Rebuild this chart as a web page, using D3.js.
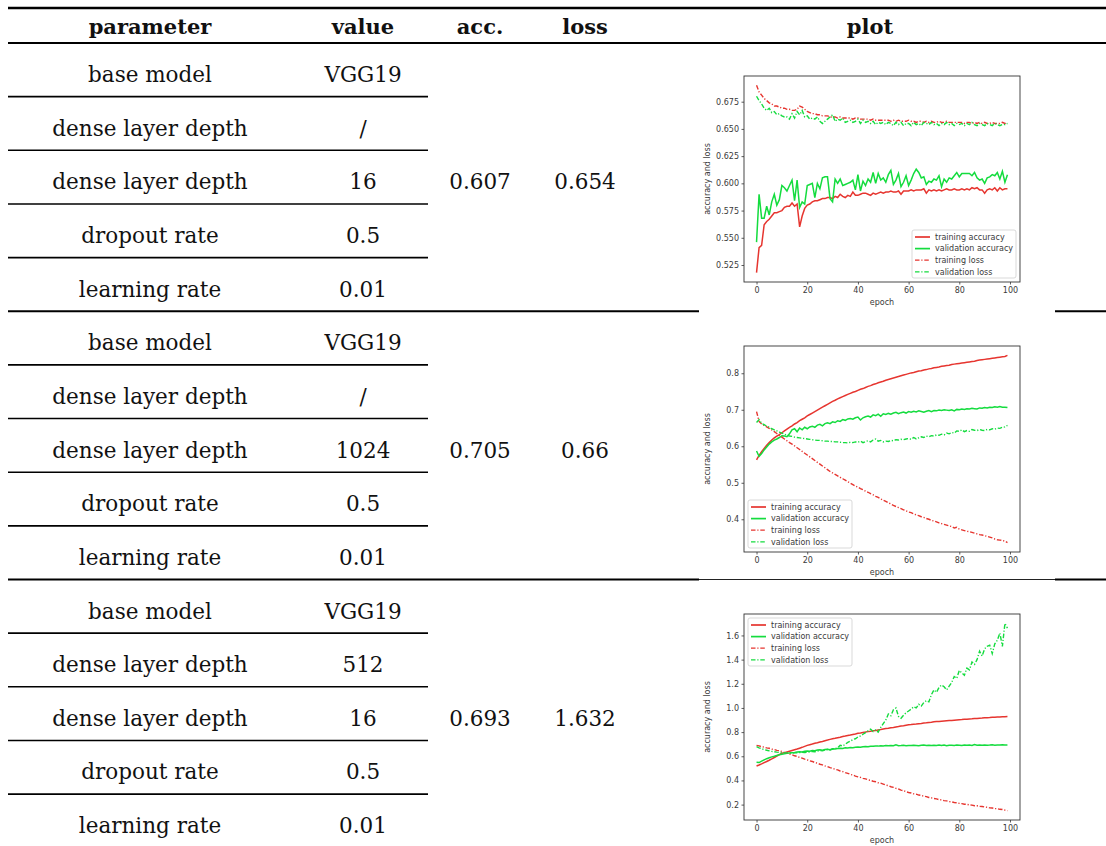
<!DOCTYPE html>
<html>
<head>
<meta charset="utf-8" />
<title>VGG19 tuning table</title>
<script src="https://cdn.jsdelivr.net/npm/d3@7/dist/d3.min.js"></script>
<style>
  body { margin: 0; background: #fff; }
  svg { display: block; }
  .cell { font-family: 'DejaVu Serif', serif; font-size: 21.5px; fill: #111; }
  .head { font-weight: bold; font-size: 21px; }
  .mini text, .mini .lab { font-family: 'DejaVu Sans', sans-serif; font-size: 8px; fill: #3a3a3a; }
</style>
</head>
<body>
<svg id="chart" width="1106" height="846"></svg>
<script>
// table text
var columns = ['parameter', 'value', 'acc.', 'loss', 'plot'];
var paramNames = ['base model', 'dense layer depth', 'dense layer depth', 'dropout rate', 'learning rate'];
var paramValues = [
  ['VGG19', '/', '16', '0.5', '0.01'],
  ['VGG19', '/', '1024', '0.5', '0.01'],
  ['VGG19', '512', '16', '0.5', '0.01']
];
var accValues = ['0.607', '0.705', '0.693'];
var lossValues = ['0.654', '0.66', '1.632'];

// plot labels and ticks
var seriesNames = ['training accuracy', 'validation accuracy', 'training loss', 'validation loss'];
var xTicks = [0, 20, 40, 60, 80, 100];
var yTicks1 = [0.525, 0.55, 0.575, 0.6, 0.625, 0.65, 0.675];
var yTicks2 = [0.4, 0.5, 0.6, 0.7, 0.8];
var yTicks3 = [0.2, 0.4, 0.6, 0.8, 1.0, 1.2, 1.4, 1.6];

// plot 1 (dense 16)
var trainAcc1 = [0.518,0.541,0.543,0.562,0.565,0.567,0.570,0.573,0.573,0.574,
  0.575,0.578,0.579,0.579,0.582,0.579,0.581,0.560,0.570,0.577,
  0.580,0.581,0.583,0.584,0.584,0.585,0.586,0.586,0.587,0.587,
  0.586,0.588,0.587,0.590,0.588,0.587,0.589,0.588,0.592,0.589,
  0.589,0.590,0.591,0.591,0.590,0.589,0.591,0.590,0.591,0.592,
  0.591,0.592,0.592,0.593,0.592,0.592,0.593,0.590,0.593,0.593,
  0.593,0.594,0.593,0.594,0.594,0.594,0.595,0.591,0.594,0.593,
  0.594,0.593,0.594,0.593,0.594,0.595,0.594,0.594,0.595,0.594,
  0.594,0.595,0.594,0.595,0.594,0.596,0.595,0.596,0.594,0.594,
  0.591,0.594,0.595,0.594,0.596,0.593,0.596,0.594,0.595,0.595];
var valAcc1 = [0.546,0.590,0.568,0.568,0.579,0.571,0.583,0.590,0.580,0.585,
  0.598,0.596,0.593,0.598,0.603,0.584,0.603,0.578,0.583,0.581,
  0.598,0.599,0.600,0.587,0.600,0.595,0.605,0.606,0.606,0.586,
  0.583,0.604,0.600,0.604,0.598,0.599,0.600,0.601,0.603,0.594,
  0.608,0.593,0.602,0.598,0.604,0.601,0.610,0.600,0.609,0.603,
  0.605,0.601,0.608,0.612,0.599,0.603,0.609,0.597,0.601,0.607,
  0.598,0.603,0.609,0.613,0.610,0.605,0.606,0.599,0.602,0.601,
  0.604,0.603,0.607,0.597,0.604,0.601,0.605,0.604,0.607,0.610,
  0.606,0.609,0.609,0.609,0.609,0.607,0.610,0.605,0.603,0.604,
  0.600,0.605,0.606,0.608,0.607,0.610,0.604,0.611,0.601,0.608];
var trainLoss1 = [0.690,0.684,0.681,0.678,0.676,0.674,0.673,0.671,0.671,0.670,
  0.669,0.669,0.668,0.668,0.667,0.667,0.668,0.671,0.670,0.668,
  0.666,0.665,0.664,0.664,0.663,0.663,0.662,0.662,0.662,0.661,
  0.661,0.661,0.660,0.661,0.660,0.660,0.660,0.660,0.659,0.660,
  0.660,0.659,0.659,0.659,0.659,0.658,0.659,0.658,0.658,0.658,
  0.658,0.658,0.658,0.657,0.658,0.657,0.658,0.657,0.657,0.657,
  0.658,0.657,0.657,0.656,0.657,0.657,0.656,0.657,0.656,0.657,
  0.656,0.656,0.657,0.656,0.656,0.657,0.656,0.656,0.656,0.656,
  0.656,0.656,0.655,0.656,0.656,0.655,0.656,0.655,0.656,0.655,
  0.656,0.655,0.655,0.656,0.655,0.655,0.655,0.656,0.655,0.655];
var valLoss1 = [0.680,0.676,0.673,0.669,0.667,0.669,0.665,0.666,0.663,0.664,
  0.662,0.661,0.661,0.659,0.664,0.660,0.666,0.663,0.667,0.661,
  0.662,0.659,0.660,0.659,0.661,0.657,0.655,0.657,0.659,0.661,
  0.663,0.657,0.659,0.658,0.660,0.656,0.657,0.658,0.656,0.657,
  0.659,0.655,0.658,0.656,0.657,0.655,0.657,0.654,0.656,0.655,
  0.656,0.654,0.656,0.655,0.653,0.656,0.654,0.656,0.653,0.655,
  0.655,0.653,0.656,0.654,0.655,0.653,0.656,0.655,0.654,0.656,
  0.654,0.655,0.653,0.655,0.654,0.656,0.654,0.655,0.653,0.655,
  0.654,0.655,0.653,0.655,0.654,0.656,0.654,0.653,0.655,0.654,
  0.653,0.655,0.654,0.653,0.655,0.654,0.653,0.654,0.654,0.655];

// plot 2 (dense 1024)
var trainAcc2 = [0.563,0.575,0.585,0.594,0.603,0.610,0.617,0.623,0.628,0.632,
  0.637,0.642,0.647,0.652,0.656,0.661,0.665,0.670,0.674,0.678,
  0.683,0.687,0.691,0.695,0.699,0.703,0.707,0.711,0.715,0.719,
  0.723,0.726,0.730,0.733,0.736,0.739,0.742,0.745,0.748,0.750,
  0.753,0.756,0.758,0.761,0.764,0.766,0.769,0.771,0.774,0.776,
  0.778,0.781,0.783,0.785,0.787,0.789,0.791,0.793,0.795,0.797,
  0.799,0.801,0.802,0.804,0.806,0.807,0.809,0.810,0.812,0.813,
  0.815,0.816,0.817,0.819,0.820,0.821,0.822,0.824,0.825,0.826,
  0.827,0.828,0.829,0.830,0.831,0.832,0.833,0.835,0.836,0.837,
  0.838,0.839,0.840,0.841,0.842,0.843,0.844,0.845,0.846,0.849];
var valAcc2 = [0.587,0.572,0.580,0.590,0.598,0.606,0.612,0.617,0.620,0.624,
  0.629,0.628,0.626,0.634,0.645,0.648,0.640,0.650,0.645,0.652,
  0.648,0.653,0.655,0.652,0.658,0.660,0.656,0.662,0.664,0.662,
  0.667,0.665,0.670,0.668,0.673,0.671,0.675,0.676,0.674,0.678,
  0.680,0.672,0.678,0.681,0.683,0.680,0.686,0.684,0.688,0.682,
  0.689,0.687,0.690,0.688,0.691,0.693,0.689,0.692,0.694,0.691,
  0.695,0.693,0.696,0.694,0.697,0.695,0.693,0.696,0.698,0.695,
  0.698,0.697,0.699,0.698,0.700,0.699,0.698,0.700,0.697,0.701,
  0.700,0.702,0.701,0.703,0.702,0.704,0.703,0.702,0.705,0.704,
  0.706,0.705,0.707,0.706,0.708,0.707,0.709,0.707,0.707,0.706];
var trainLoss2 = [0.695,0.668,0.661,0.657,0.653,0.649,0.645,0.640,0.635,0.630,
  0.625,0.620,0.615,0.610,0.606,0.601,0.596,0.591,0.586,0.581,
  0.576,0.571,0.566,0.561,0.556,0.551,0.546,0.541,0.536,0.531,
  0.527,0.523,0.519,0.515,0.511,0.507,0.503,0.499,0.495,0.491,
  0.488,0.484,0.481,0.477,0.474,0.470,0.467,0.463,0.460,0.456,
  0.452,0.449,0.445,0.442,0.438,0.435,0.432,0.429,0.426,0.423,
  0.420,0.418,0.415,0.412,0.410,0.407,0.405,0.402,0.400,0.397,
  0.395,0.393,0.390,0.388,0.386,0.384,0.382,0.380,0.376,0.378,
  0.373,0.371,0.369,0.367,0.366,0.364,0.362,0.360,0.358,0.357,
  0.355,0.353,0.351,0.349,0.346,0.344,0.343,0.342,0.340,0.336];
var valLoss2 = [0.665,0.673,0.663,0.659,0.655,0.652,0.648,0.645,0.642,0.639,
  0.636,0.633,0.630,0.628,0.627,0.625,0.624,0.623,0.622,0.621,
  0.620,0.619,0.618,0.617,0.616,0.616,0.615,0.614,0.614,0.613,
  0.613,0.612,0.612,0.611,0.610,0.610,0.609,0.611,0.610,0.612,
  0.611,0.614,0.610,0.613,0.615,0.612,0.617,0.620,0.614,0.616,
  0.612,0.614,0.613,0.616,0.615,0.618,0.617,0.619,0.618,0.620,
  0.621,0.619,0.624,0.620,0.623,0.626,0.624,0.628,0.626,0.629,
  0.628,0.631,0.630,0.633,0.631,0.636,0.634,0.638,0.636,0.642,
  0.641,0.645,0.640,0.643,0.641,0.646,0.644,0.643,0.646,0.644,
  0.643,0.646,0.645,0.648,0.647,0.650,0.649,0.652,0.653,0.657];

// plot 3 (dense 512 + 16)
var trainAcc3 = [0.520,0.528,0.537,0.547,0.557,0.567,0.578,0.590,0.602,0.614,
  0.625,0.630,0.636,0.642,0.648,0.654,0.660,0.667,0.674,0.682,
  0.690,0.696,0.701,0.707,0.712,0.718,0.723,0.729,0.734,0.740,
  0.745,0.749,0.754,0.758,0.763,0.767,0.772,0.776,0.781,0.785,
  0.790,0.793,0.797,0.800,0.804,0.807,0.811,0.814,0.818,0.821,
  0.825,0.829,0.832,0.836,0.839,0.843,0.846,0.850,0.853,0.857,
  0.860,0.862,0.865,0.867,0.870,0.872,0.875,0.877,0.880,0.882,
  0.885,0.887,0.888,0.890,0.892,0.894,0.896,0.897,0.899,0.901,
  0.903,0.904,0.906,0.907,0.909,0.910,0.912,0.913,0.915,0.916,
  0.918,0.919,0.920,0.922,0.923,0.924,0.925,0.927,0.928,0.930];
var valAcc3 = [0.550,0.548,0.560,0.570,0.580,0.588,0.595,0.600,0.607,0.612,
  0.617,0.620,0.624,0.627,0.630,0.632,0.635,0.638,0.636,0.642,
  0.644,0.641,0.648,0.646,0.651,0.653,0.650,0.656,0.658,0.655,
  0.662,0.660,0.664,0.667,0.665,0.670,0.668,0.672,0.671,0.675,
  0.677,0.674,0.679,0.681,0.678,0.683,0.682,0.685,0.684,0.687,
  0.686,0.689,0.688,0.690,0.687,0.695,0.688,0.689,0.691,0.688,
  0.690,0.689,0.692,0.690,0.688,0.691,0.693,0.689,0.692,0.690,
  0.691,0.689,0.693,0.690,0.694,0.688,0.692,0.691,0.690,0.693,
  0.692,0.690,0.694,0.691,0.693,0.690,0.697,0.692,0.693,0.691,
  0.694,0.692,0.693,0.695,0.692,0.694,0.693,0.695,0.693,0.694];
var trainLoss3 = [0.690,0.686,0.679,0.676,0.669,0.666,0.659,0.656,0.649,0.646,
  0.640,0.632,0.627,0.618,0.613,0.604,0.599,0.590,0.585,0.576,
  0.570,0.562,0.557,0.548,0.543,0.534,0.529,0.520,0.515,0.506,
  0.500,0.492,0.487,0.478,0.473,0.464,0.459,0.450,0.445,0.436,
  0.430,0.425,0.417,0.413,0.405,0.401,0.393,0.389,0.381,0.377,
  0.370,0.362,0.357,0.348,0.343,0.334,0.329,0.320,0.315,0.306,
  0.300,0.296,0.289,0.286,0.279,0.276,0.269,0.266,0.259,0.256,
  0.250,0.247,0.241,0.239,0.233,0.231,0.225,0.223,0.217,0.215,
  0.210,0.208,0.203,0.202,0.197,0.196,0.191,0.190,0.185,0.184,
  0.180,0.178,0.173,0.172,0.167,0.166,0.161,0.160,0.154,0.150];
var valLoss3 = [0.680,0.670,0.662,0.655,0.650,0.645,0.640,0.637,0.634,0.632,
  0.630,0.628,0.627,0.626,0.627,0.628,0.629,0.630,0.632,0.631,
  0.633,0.636,0.640,0.637,0.643,0.648,0.645,0.652,0.656,0.651,
  0.660,0.664,0.670,0.690,0.685,0.700,0.715,0.725,0.738,0.745,
  0.760,0.768,0.782,0.795,0.810,0.825,0.805,0.818,0.800,0.840,
  0.870,0.900,0.950,0.935,0.985,1.000,0.930,0.915,0.940,0.960,
  0.975,0.990,1.010,1.000,1.030,1.015,1.045,1.060,1.050,1.110,
  1.150,1.130,1.170,1.190,1.175,1.150,1.180,1.210,1.260,1.245,
  1.310,1.290,1.270,1.330,1.315,1.380,1.360,1.400,1.470,1.430,
  1.490,1.510,1.520,1.450,1.530,1.560,1.620,1.510,1.700,1.660];

var plots = [
  { series: [trainAcc1, valAcc1, trainLoss1, valLoss1], ticks: yTicks1, fmt: '.3f', legend: 'lower right' },
  { series: [trainAcc2, valAcc2, trainLoss2, valLoss2], ticks: yTicks2, fmt: '.1f', legend: 'lower left' },
  { series: [trainAcc3, valAcc3, trainLoss3, valLoss3], ticks: yTicks3, fmt: '.1f', legend: 'upper left' }
];

// layout
var colX = [150, 363, 480, 585, 870];
var rowTop = 43, rowH = 53.65;
var red = '#e6352f', green = '#14dc3e';
var colors = [red, green, red, green];
var dashes = [null, null, '4.5,1.8,1.2,1.8', '4.5,1.8,1.2,1.8'];
var plotLeft = 744, plotW = 276, plotH = 206;
var plotTops = [76, 346, 614];

var svg = d3.select('#chart');
svg.append('rect').attr('width', 1106).attr('height', 846).attr('fill', '#fff');

// rules
svg.append('line').attr('x1', 8).attr('x2', 1106).attr('y1', 8).attr('y2', 8)
  .attr('stroke', '#000').attr('stroke-width', 2.5);
svg.append('line').attr('x1', 8).attr('x2', 1106).attr('y1', rowTop).attr('y2', rowTop)
  .attr('stroke', '#000').attr('stroke-width', 1.8);

svg.selectAll('text.head').data(columns).enter().append('text')
  .attr('class', 'cell head')
  .attr('x', (d, i) => colX[i]).attr('y', 34)
  .attr('text-anchor', 'middle')
  .text(d => d);

paramValues.forEach(function (vals, g) {
  var gTop = rowTop + g * 5 * rowH;
  var grp = svg.append('g');

  grp.selectAll('text.pname').data(paramNames).enter().append('text')
    .attr('class', 'cell')
    .attr('x', colX[0]).attr('y', (d, i) => gTop + i * rowH + 39)
    .attr('text-anchor', 'middle').text(d => d);
  grp.selectAll('text.pval').data(vals).enter().append('text')
    .attr('class', 'cell')
    .attr('x', colX[1]).attr('y', (d, i) => gTop + i * rowH + 39)
    .attr('text-anchor', 'middle').text(d => d);

  grp.append('text').attr('class', 'cell').attr('x', colX[2]).attr('y', gTop + 2 * rowH + 39)
    .attr('text-anchor', 'middle').text(accValues[g]);
  grp.append('text').attr('class', 'cell').attr('x', colX[3]).attr('y', gTop + 2 * rowH + 39)
    .attr('text-anchor', 'middle').text(lossValues[g]);

  // short rules under each parameter row
  grp.selectAll('line.inner').data([1, 2, 3, 4]).enter().append('line')
    .attr('x1', 8).attr('x2', 428)
    .attr('y1', d => gTop + d * rowH).attr('y2', d => gTop + d * rowH)
    .attr('stroke', '#000').attr('stroke-width', 1.6);

  // group rule (broken around the plot column)
  if (g < 2) {
    var yb = gTop + 5 * rowH;
    grp.append('line').attr('x1', 8).attr('x2', 699).attr('y1', yb).attr('y2', yb)
      .attr('stroke', '#000').attr('stroke-width', 1.8);
    grp.append('line').attr('x1', 1055).attr('x2', 1106).attr('y1', yb).attr('y2', yb)
      .attr('stroke', '#000').attr('stroke-width', 1.8);
    if (g === 1) {
      grp.append('line').attr('x1', 699).attr('x2', 1055).attr('y1', yb).attr('y2', yb)
        .attr('stroke', '#222').attr('stroke-width', 1);
    }
  }
});

// the small training plots
plots.forEach(function (p, k) {
  var gp = svg.append('g').attr('class', 'mini')
    .attr('transform', 'translate(' + plotLeft + ',' + plotTops[k] + ')');

  var x = d3.scaleLinear().domain([-4.95, 103.95]).range([0, plotW]);
  var all = d3.merge(p.series);
  var ext = d3.extent(all);
  var pad = (ext[1] - ext[0]) * 0.05;
  var y = d3.scaleLinear().domain([ext[0] - pad, ext[1] + pad]).range([plotH, 0]);

  var xa = gp.append('g').attr('transform', 'translate(0,' + plotH + ')')
    .call(d3.axisBottom(x).tickValues(xTicks).tickSize(2.5).tickPadding(2.5));
  var ya = gp.append('g')
    .call(d3.axisLeft(y).tickValues(p.ticks).tickFormat(d3.format(p.fmt)).tickSize(2.5).tickPadding(2.5));
  [xa, ya].forEach(function (a) {
    a.attr('font-family', null).attr('font-size', null);
    a.select('.domain').remove();
    a.selectAll('line').attr('stroke', '#333').attr('stroke-width', 0.8);
  });

  var lineMaker = d3.line().x((d, i) => x(i)).y(d => y(d));
  gp.selectAll('path.curve').data(p.series).enter().append('path')
    .attr('class', 'curve')
    .attr('fill', 'none')
    .attr('stroke', (d, i) => colors[i])
    .attr('stroke-width', (d, i) => dashes[i] ? 1.4 : 1.5)
    .attr('stroke-dasharray', (d, i) => dashes[i])
    .attr('d', lineMaker);

  gp.append('rect').attr('width', plotW).attr('height', plotH)
    .attr('fill', 'none').attr('stroke', '#333').attr('stroke-width', 0.9);

  gp.append('text').attr('class', 'lab').attr('x', plotW / 2).attr('y', plotH + 23)
    .attr('text-anchor', 'middle').text('epoch');
  gp.append('text').attr('class', 'lab')
    .attr('transform', 'translate(-34,' + plotH / 2 + ') rotate(-90)')
    .attr('text-anchor', 'middle').text('accuracy and loss');

  // legend
  var lw = 104, lh = 48, m = 4;
  var lx = p.legend.indexOf('right') >= 0 ? plotW - lw - m : m;
  var ly = p.legend.indexOf('lower') >= 0 ? plotH - lh - m : m;
  var lg = gp.append('g').attr('transform', 'translate(' + lx + ',' + ly + ')');
  lg.append('rect').attr('width', lw).attr('height', lh).attr('rx', 2)
    .attr('fill', '#fff').attr('fill-opacity', 0.85).attr('stroke', '#cfcfcf').attr('stroke-width', 0.8);
  var items = lg.selectAll('g.item').data(seriesNames).enter().append('g')
    .attr('transform', (d, i) => 'translate(0,' + (7 + i * 11.6) + ')');
  items.append('line').attr('x1', 3).attr('x2', 18).attr('y1', 0).attr('y2', 0)
    .attr('stroke', (d, i) => colors[i])
    .attr('stroke-width', (d, i) => dashes[i] ? 1.3 : 1.7)
    .attr('stroke-dasharray', (d, i) => dashes[i]);
  items.append('text').attr('x', 23).attr('y', 2.8).text(d => d);
});
</script>
</body>
</html>
